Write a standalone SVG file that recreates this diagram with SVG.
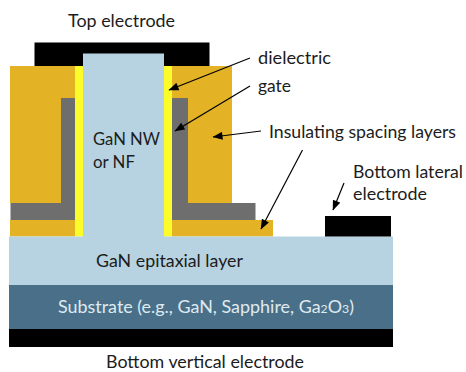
<svg xmlns="http://www.w3.org/2000/svg" width="466" height="372" viewBox="0 0 466 372">
<defs>
<marker id="ah" viewBox="0 0 10 8" refX="9.500" refY="4" markerWidth="11" markerHeight="8" markerUnits="userSpaceOnUse" orient="auto"><path d="M0 0L10 4L0 8z" fill="#000"/></marker>
</defs>
<style>
text{font-family:"Lato","Open Sans","Liberation Sans",sans-serif;font-size:17.500px;fill:#1c1c1c}
.arrow{stroke:#000;stroke-width:1.200;fill:none;marker-end:url(#ah)}
.gold{fill:#e3b325}.yellow{fill:#fcfc2a}.gate{fill:#6e6e6e}.black{fill:#000}.blue{fill:#b7d3e1}.sub{fill:#4a7089}
</style>
<rect width="466" height="372" fill="#fff"/>
<g id="top-electrode"><rect class="black" x="34.500" y="42.500" width="175" height="24"/></g>
<g id="insulating-spacing-layers">
<rect class="gold" x="10" y="66" width="65" height="137"/>
<rect class="gold" x="172" y="66" width="60" height="137"/>
<rect class="gold" x="10" y="220" width="65" height="16.500"/>
<rect class="gold" x="172" y="220" width="101" height="16.500"/>
</g>
<g id="gate">
<path class="gate" d="M61 98H75V220H10.500V203H61z"/>
<path class="gate" d="M172 98H188V203H255.500V220H172z"/>
</g>
<g id="dielectric">
<rect class="yellow" x="75" y="66" width="8" height="170.500"/>
<rect class="yellow" x="164" y="66" width="8" height="170.500"/>
</g>
<g id="nanowire"><rect class="blue" x="83" y="53.500" width="81" height="184"/>
<text x="93" y="145" textLength="67" lengthAdjust="spacingAndGlyphs">GaN NW</text>
<text x="93" y="168" textLength="42" lengthAdjust="spacingAndGlyphs">or NF</text></g>
<g id="epitaxial-layer"><rect class="blue" x="9" y="236.500" width="384" height="48.500"/>
<text x="96" y="267" textLength="147" lengthAdjust="spacingAndGlyphs">GaN epitaxial layer</text></g>
<g id="substrate"><rect class="sub" x="9" y="285" width="384" height="44"/>
<text x="58" y="313" textLength="296" lengthAdjust="spacingAndGlyphs" style="fill:#dfeaf0">Substrate (e.g., GaN, Sapphire, Ga<tspan font-size="12">2</tspan>O<tspan font-size="12">3</tspan>)</text></g>
<g id="bottom-vertical-electrode"><rect class="black" x="9" y="329" width="384" height="18"/>
<text x="106" y="368" textLength="198" lengthAdjust="spacingAndGlyphs">Bottom vertical electrode</text></g>
<g id="bottom-lateral-electrode"><rect class="black" x="325" y="216" width="66" height="20.500"/>
<text x="353" y="178" textLength="110" lengthAdjust="spacingAndGlyphs">Bottom lateral</text>
<text x="353" y="200" textLength="74" lengthAdjust="spacingAndGlyphs">electrode</text></g>
<g id="labels">
<text x="68" y="27" textLength="107" lengthAdjust="spacingAndGlyphs">Top electrode</text>
<text x="258" y="64" textLength="73" lengthAdjust="spacingAndGlyphs">dielectric</text>
<text x="258" y="92" textLength="33" lengthAdjust="spacingAndGlyphs">gate</text>
<text x="269" y="138" textLength="187" lengthAdjust="spacingAndGlyphs">Insulating spacing layers</text>
</g>
<g id="connectors">
<line class="arrow" x1="250" y1="58" x2="169" y2="90"/>
<line class="arrow" x1="250" y1="86" x2="175" y2="131"/>
<line class="arrow" x1="261" y1="131" x2="213" y2="137"/>
<line class="arrow" x1="302.500" y1="150" x2="261" y2="229"/>
<line class="arrow" x1="344" y1="183" x2="333" y2="210"/>
</g>
</svg>
